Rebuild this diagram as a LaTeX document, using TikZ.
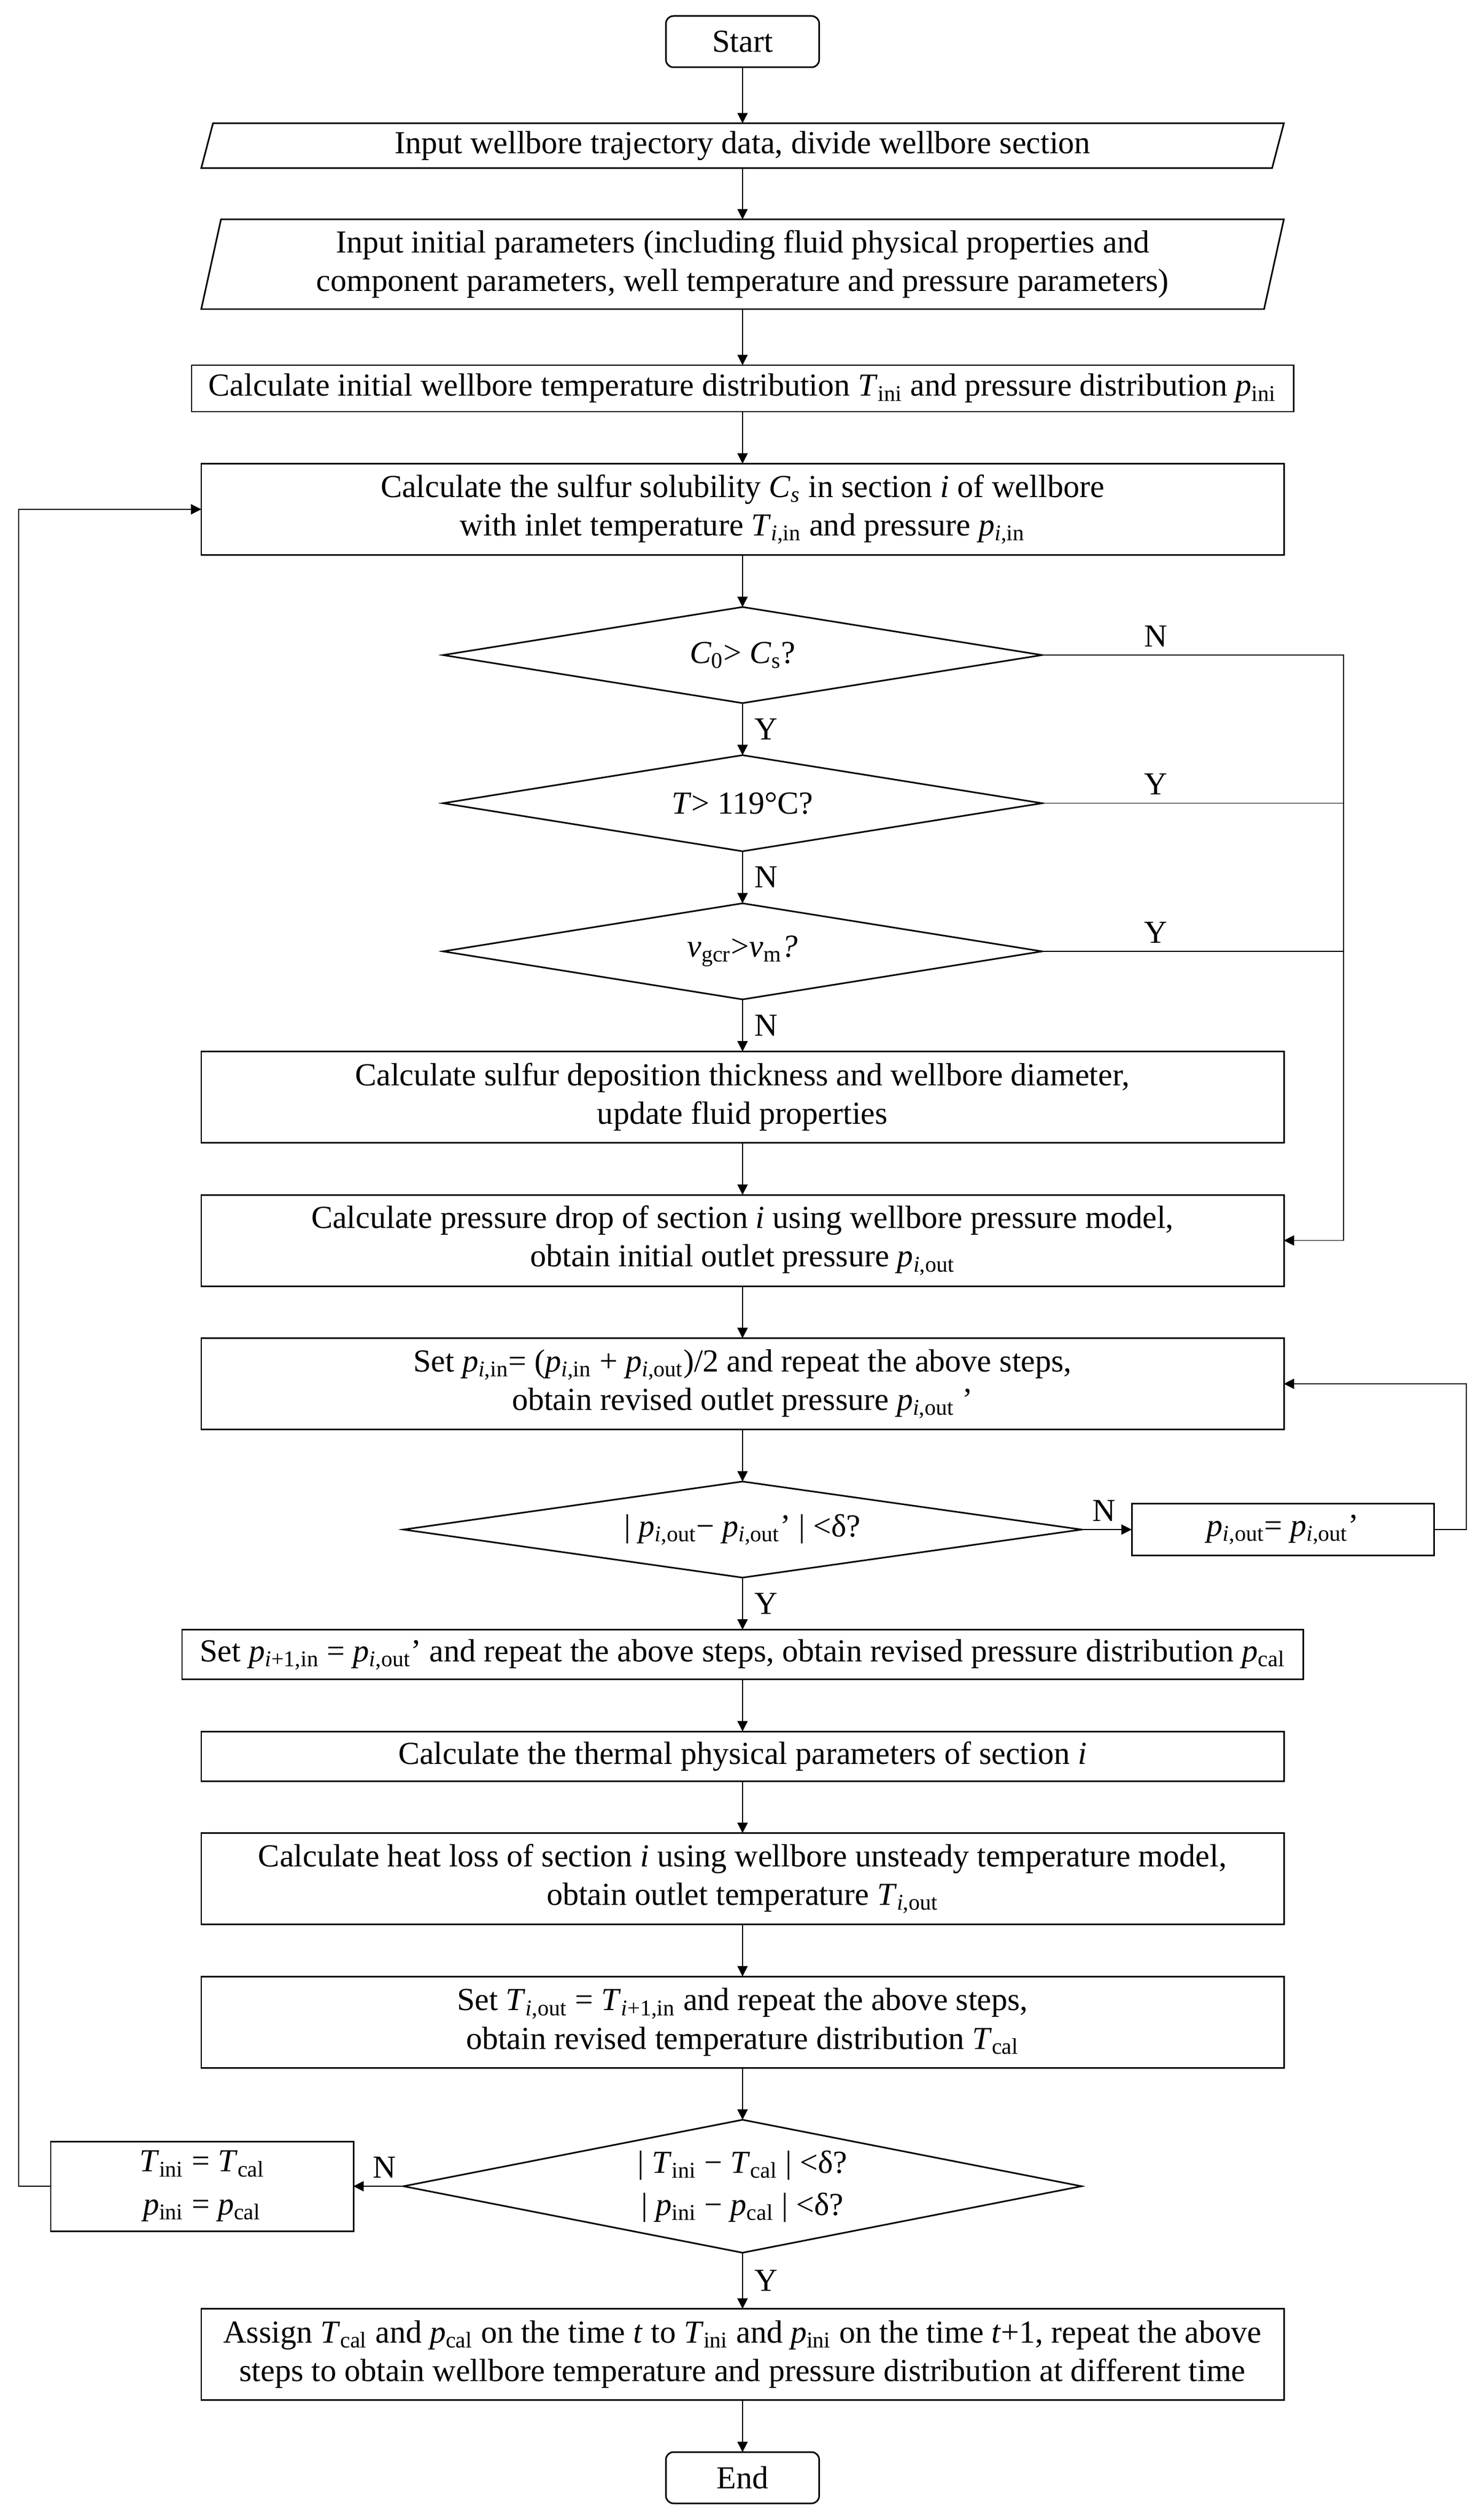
\documentclass[tikz,border=0pt]{standalone}
\usepackage{fontspec}
\setmainfont{Liberation Serif}
\usetikzlibrary{arrows.meta,positioning,shapes.geometric}
\newcommand{\vsub}[2]{\textit{#1}\textsubscript{#2}}

\begin{document}
\begin{tikzpicture}[>={Triangle[length=5.5pt,width=5.5pt]},line width=0.35pt,
                    node distance=0.975cm,font=\fontsize{17.1}{20.5}\selectfont]
    \tikzset{every node/.style={align=center,inner sep=2pt,outer sep=0pt},
             box/.style={draw,line width=0.85pt,minimum width=20.28cm,minimum height=1.71cm},
             io/.style={minimum width=20.28cm},
             term/.style={draw,rounded corners=4pt,line width=0.85pt,minimum width=2.87cm,minimum height=0.96cm},
             dec/.style={draw,diamond,line width=0.85pt,minimum width=11.22cm,minimum height=1.80cm,aspect=6,inner sep=1pt},
             lab/.style={inner sep=4.5pt}}
    \useasboundingbox (0,0) rectangle (27.79,-47.09);
    \node[term] (0) at (13.91,-0.78) {Start};
    \node[io,minimum height=0.84cm] (1) [below=1.05cm of 0] {Input wellbore trajectory data, divide wellbore section};
    \node[io,minimum height=1.68cm] (2) [below=0.96cm of 1] {Input initial parameters (including fluid physical properties and\\component parameters, well temperature and pressure parameters)};
    \node[box,minimum width=20.64cm,minimum height=0.87cm] (3) [below=1.05cm of 2] {Calculate initial wellbore temperature distribution \vsub{T}{ini} and pressure distribution \vsub{p}{ini}};
    \node[box] (4) [below=of 3] {Calculate the sulfur solubility \vsub{C}{\textit{s}} in section \textit{i} of wellbore\\with inlet temperature \vsub{T}{\textit{i},in} and pressure \vsub{p}{\textit{i},in}};
    \node[dec] (5) [below=of 4] {\vsub{C}{0}> \vsub{C}{s}?};
    \node[dec] (6) [below=of 5] {\textit{T}> 119°C?};
    \node[dec] (7) [below=of 6] {\vsub{v}{gcr}>\vsub{v}{m}\textit{?}};
    \node[box] (8) [below=of 7] {Calculate sulfur deposition thickness and wellbore diameter,\\update fluid properties};
    \node[box] (9) [below=of 8] {Calculate pressure drop of section \textit{i} using wellbore pressure model,\\obtain initial outlet pressure \vsub{p}{\textit{i},out}};
    \node[box] (10) [below=of 9] {Set \vsub{p}{\textit{i},in}= (\vsub{p}{\textit{i},in} + \vsub{p}{\textit{i},out})/2 and repeat the above steps,\\obtain revised outlet pressure \vsub{p}{\textit{i},out} ’};
    \node[dec,minimum width=12.7cm,aspect=7] (11) [below=of 10] {| \vsub{p}{\textit{i},out}− \vsub{p}{\textit{i},out}’ | <δ?};
    \node[box,minimum width=5.66cm,minimum height=0.97cm] (12) [right=0.94cm of 11] {\vsub{p}{\textit{i},out}= \vsub{p}{\textit{i},out}’};
    \node[box,minimum width=21cm,minimum height=0.93cm] (13) [below=of 11] {Set \vsub{p}{\textit{i}+1,in} = \vsub{p}{\textit{i},out}’ and repeat the above steps, obtain revised pressure distribution \vsub{p}{cal}};
    \node[box,minimum height=0.93cm] (14) [below=of 13] {Calculate the thermal physical parameters of section \textit{i}};
    \node[box] (15) [below=of 14] {Calculate heat loss of section \textit{i} using wellbore unsteady temperature model,\\obtain outlet temperature \vsub{T}{\textit{i},out}};
    \node[box] (16) [below=of 15] {Set \vsub{T}{\textit{i},out} = \vsub{T}{\textit{i}+1,in} and repeat the above steps,\\obtain revised temperature distribution \vsub{T}{cal}};
    \node[dec,minimum width=12.7cm,minimum height=2.49cm,aspect=5,font=\fontsize{17.1}{22.5}\selectfont] (17) [below=of 16] {| \vsub{T}{ini} − \vsub{T}{cal} | <δ?\\| \vsub{p}{ini} − \vsub{p}{cal} | <δ?};
    \node[box,minimum width=5.67cm,minimum height=1.68cm,font=\fontsize{17.1}{23}\selectfont] (18) [left=0.94cm of 17] {\vsub{T}{ini} = \vsub{T}{cal}\\\vsub{p}{ini} = \vsub{p}{cal}};
    \node[box] (19) [below=1.05cm of 17] {Assign \vsub{T}{cal} and \vsub{p}{cal} on the time \textit{t} to \vsub{T}{ini} and \vsub{p}{ini} on the time \textit{t}+1, repeat the above\\steps to obtain wellbore temperature and pressure distribution at different time};
    \node[term] (20) [below=of 19] {End};
    % slanted input boxes
    \draw[line width=0.85pt] ([xshift=0.22cm]1.north west) -- (1.north east) -- ([xshift=-0.22cm]1.south east) -- (1.south west) -- cycle;
    \draw[line width=0.85pt] ([xshift=0.37cm]2.north west) -- (2.north east) -- ([xshift=-0.37cm]2.south east) -- (2.south west) -- cycle;
    \coordinate (r) at (25.17,0);
    \coordinate (q) at (27.47,0);
    \coordinate (l) at (0.35,0);
    \path[->]
    (0) edge (1)
    (1) edge (2)
    (2) edge (3)
    (3) edge (4)
    (4) edge (5)
    (5) edge node[lab,right=2pt]{Y} (6)
    (6) edge node[lab,right=2pt]{N} (7)
    (7) edge node[lab,right=2pt]{N} (8)
    (8) edge (9)
    (9) edge (10)
    (10) edge (11)
    (11) edge node[lab,above,pos=0.45]{N} (12)
    (11) edge node[lab,right=2pt]{Y} (13)
    (13) edge (14)
    (14) edge (15)
    (15) edge (16)
    (16) edge (17)
    (17) edge node[lab,above,pos=0.38]{N} (18)
    (17) edge node[lab,right=2pt]{Y} (19)
    (19) edge (20);
    % side loops
    \draw[->] (5) -- node[lab,above,pos=0.377]{N} (5 -| r) |- (9);
    \draw (6) -- node[lab,above,pos=0.377]{Y} (6 -| r);
    \draw (7) -- node[lab,above,pos=0.377]{Y} (7 -| r);
    \draw[->] (12) -- (12 -| q) |- (10);
    \draw[->] (18) -- (18 -| l) |- (4);
\end{tikzpicture}
\end{document}
